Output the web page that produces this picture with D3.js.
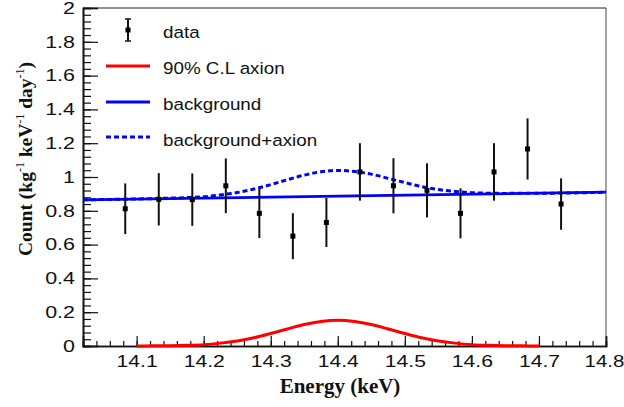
<!DOCTYPE html>
<html><head><meta charset="utf-8">
<script src="https://cdn.jsdelivr.net/npm/d3@7"></script>
<style>body{margin:0;background:#fff}</style>
</head><body><svg id="c" width="624" height="407"></svg>
<script>
// ---- data ----
const energies = [14.083,14.133,14.183,14.233,14.283,14.333,14.383,14.433,14.483,14.533,14.583,14.633,14.683,14.733];
const counts   = [0.812,0.868,0.866,0.948,0.785,0.650,0.731,1.030,0.948,0.921,0.785,1.030,1.166,0.840];
const errors   = [0.150,0.155,0.155,0.162,0.146,0.136,0.145,0.170,0.163,0.160,0.148,0.170,0.181,0.152];

const curveE = [14.1,14.125,14.15,14.175,14.2,14.225,14.25,14.275,14.3,14.325,14.35,14.375,14.4,
                14.425,14.45,14.475,14.5,14.525,14.55,14.575,14.6,14.625,14.65,14.675,14.7];
const axion  = [0.000,0.001,0.002,0.004,0.008,0.017,0.030,0.049,0.074,0.101,0.127,0.145,0.152,
                0.145,0.127,0.101,0.074,0.049,0.030,0.017,0.008,0.004,0.002,0.001,0.000];
const bgE    = [14.02,14.8];
const bgVals = [0.865,0.910];
const sumE   = [14.02,14.1,14.125,14.15,14.175,14.2,14.225,14.25,14.275,14.3,14.325,14.35,14.375,14.4,
                14.425,14.45,14.475,14.5,14.525,14.55,14.575,14.6,14.625,14.65,14.675,14.7,14.8];
const sumVals= [0.865,0.870,0.872,0.875,0.878,0.883,0.894,0.908,0.929,0.955,0.984,1.011,1.031,1.039,
                1.033,1.017,0.992,0.967,0.943,0.926,0.914,0.907,0.904,0.903,0.904,0.904,0.910];

const xTicks = [14.1,14.2,14.3,14.4,14.5,14.6,14.7,14.8];
const xMinor = d3.range(14.02,14.8001,0.02);
const yTicks = [0,0.2,0.4,0.6,0.8,1,1.2,1.4,1.6,1.8,2];
const yMinor = d3.range(0,2.0001,0.04);
const legendLabels = ["data","90% C.L axion","background","background+axion"];

// ---- layout ----
const svg = d3.select("#c");
const L=83, R=606, T=8, B=346;
const x = d3.scaleLinear().domain([14.02,14.8]).range([L,R]);
const y = d3.scaleLinear().domain([0,2]).range([B,T]);
const tickFont = "'Liberation Sans', Arial, sans-serif";

// frame top/right
svg.append("line").attr("x1",L).attr("x2",R).attr("y1",T).attr("y2",T).attr("stroke","#222").attr("stroke-width",1);
svg.append("line").attr("x1",R).attr("x2",R).attr("y1",T).attr("y2",B).attr("stroke","#444").attr("stroke-width",1);

// axes
const xMinorAx = svg.append("g").attr("transform",`translate(0,${B})`)
  .call(d3.axisBottom(x).tickValues(xMinor).tickSize(-5).tickFormat(""));
const xAx = svg.append("g").attr("transform",`translate(0,${B})`)
  .call(d3.axisBottom(x).tickValues(xTicks).tickSize(-10).tickPadding(9.5).tickFormat(d3.format(".1f")));
const yMinorAx = svg.append("g").attr("transform",`translate(${L},0)`)
  .call(d3.axisLeft(y).tickValues(yMinor).tickSize(-8).tickFormat(""));
const yAx = svg.append("g").attr("transform",`translate(${L},0)`)
  .call(d3.axisLeft(y).tickValues(yTicks).tickSize(-15).tickPadding(8).tickFormat(d=>d===0?"0":d3.format("~g")(d)));
[xMinorAx,xAx,yMinorAx,yAx].forEach(g=>{
  g.selectAll(".domain").attr("stroke","#111").attr("stroke-width",1.6);
  g.selectAll(".tick line").attr("stroke","#111").attr("stroke-width",1.2);
  g.selectAll("text").attr("font-family",tickFont).attr("font-size",16.5).attr("fill","#111");
});
xAx.selectAll(".tick text").attr("transform",d=>d===14.8?"translate(-2,0) scale(1.24,1)":"scale(1.28,1)");
yAx.selectAll(".tick text").attr("x",0).attr("transform","translate(-8,0) scale(1.3,1)");

// curves
const line = d3.line().x(d=>x(d[0])).y(d=>y(d[1]));
svg.append("path").datum(bgE.map((e,i)=>[e,bgVals[i]])).attr("d",line)
  .attr("fill","none").attr("stroke","#0000ff").attr("stroke-width",2.8);
svg.append("path").datum(sumE.map((e,i)=>[e,sumVals[i]])).attr("d",line.curve(d3.curveMonotoneX))
  .attr("fill","none").attr("stroke","#0000ff").attr("stroke-width",3).attr("stroke-dasharray","5,3");
svg.append("path").datum(curveE.map((e,i)=>[e,axion[i]])).attr("d",line.curve(d3.curveMonotoneX))
  .attr("fill","none").attr("stroke","#ff0000").attr("stroke-width",3);

// data points
const pts = svg.append("g");
energies.forEach((e,i)=>{
  pts.append("line").attr("x1",x(e)).attr("x2",x(e)).attr("y1",y(counts[i]-errors[i])).attr("y2",y(counts[i]+errors[i]))
    .attr("stroke","#111").attr("stroke-width",2);
  pts.append("rect").attr("x",x(e)-2.5).attr("y",y(counts[i])-2.5).attr("width",5).attr("height",5).attr("fill","#000");
});

// legend
const lg = svg.append("g");
const legY = [31,67,103,139];
lg.append("line").attr("x1",128).attr("x2",128).attr("y1",19).attr("y2",41).attr("stroke","#111").attr("stroke-width",2);
lg.append("line").attr("x1",125).attr("x2",131).attr("y1",19).attr("y2",19).attr("stroke","#111").attr("stroke-width",1.5);
lg.append("line").attr("x1",125).attr("x2",131).attr("y1",41).attr("y2",41).attr("stroke","#111").attr("stroke-width",1.5);
lg.append("rect").attr("x",125.5).attr("y",27.5).attr("width",5).attr("height",5).attr("fill","#000");
lg.append("line").attr("x1",106).attr("x2",150).attr("y1",66).attr("y2",66).attr("stroke","#ff0000").attr("stroke-width",3);
lg.append("line").attr("x1",106).attr("x2",150).attr("y1",102).attr("y2",102).attr("stroke","#0000ff").attr("stroke-width",3);
lg.append("line").attr("x1",106).attr("x2",150).attr("y1",137).attr("y2",137).attr("stroke","#0000ff").attr("stroke-width",3).attr("stroke-dasharray","5,3");
legendLabels.forEach((t,i)=>{
  lg.append("text").attr("transform",`translate(163,${legY[i]+7}) scale(1.14,1)`).text(t)
    .attr("font-family",tickFont).attr("font-size",16.5).attr("fill","#111");
});

// axis titles
const serif = "'Liberation Serif','Times New Roman',serif";
svg.append("text").attr("x",340).attr("y",393).attr("text-anchor","middle")
  .attr("font-family",serif).attr("font-weight","bold").attr("font-size",21).attr("fill","#111").text("Energy (keV)");
const yt = svg.append("text").attr("transform","translate(31.5,159) rotate(-90)").attr("text-anchor","middle")
  .attr("font-family",serif).attr("font-weight","bold").attr("font-size",19.5).attr("fill","#111");
yt.append("tspan").text("Count (kg");
yt.append("tspan").attr("font-size",12).attr("font-weight","normal").attr("dy",-8).text("-1");
yt.append("tspan").attr("dy",8).text(" keV");
yt.append("tspan").attr("font-size",12).attr("font-weight","normal").attr("dy",-8).text("-1");
yt.append("tspan").attr("dy",8).text(" day");
yt.append("tspan").attr("font-size",12).attr("font-weight","normal").attr("dy",-8).text("-1");
yt.append("tspan").attr("dy",8).text(")");
</script></body></html>
